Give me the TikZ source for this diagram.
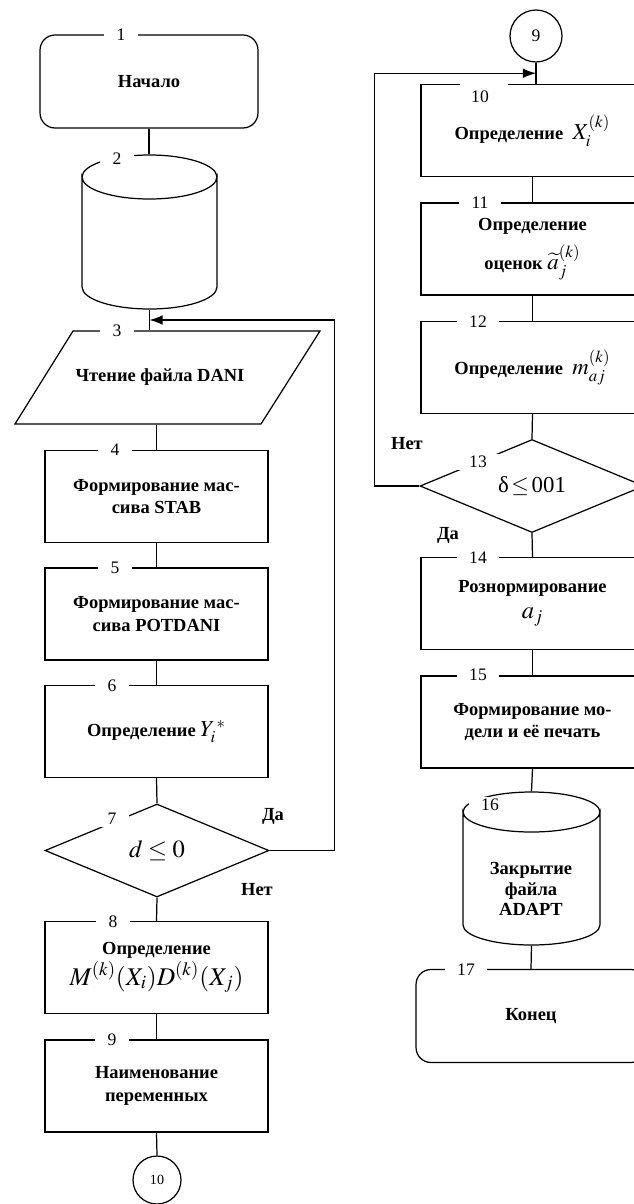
\documentclass[tikz,border=0pt]{standalone}
\usepackage{mathptmx}
\usepackage{fontspec}
\setmainfont{Liberation Serif}
\usetikzlibrary{shapes.geometric,arrows.meta,calc}
\begin{document}
\begin{tikzpicture}[x=0.02cm,y=-0.02cm, line width=0.7pt,
  txt/.style={font=\fontsize{10.5}{13}\selectfont\bfseries, align=center},
  procbox/.style={draw, rectangle, minimum width=4.46cm, minimum height=1.84cm, inner sep=0pt, txt},
  term/.style={draw, rectangle, rounded corners=0.3cm, minimum height=1.86cm, inner sep=0pt, txt},
  decision/.style={draw, diamond, aspect=2.4, minimum width=4.48cm, minimum height=1.86cm, inner sep=0pt, font=\fontsize{14}{16}\selectfont},
  conn/.style={draw, circle, inner sep=0pt},
  num/.style={fill=white, inner xsep=7pt, inner ysep=1pt, font=\fontsize{10}{12}\selectfont},
  ann/.style={font=\fontsize{10.5}{12}\selectfont\bfseries},
  arr/.style={-{Latex[length=7.5pt,width=5.5pt]}},
  ghost/.style={draw=none, rectangle, inner sep=0pt},
]
\useasboundingbox (0,0) rectangle (634,1204);

% ---------------- left column ----------------
\node[term, minimum width=4.36cm] (t1) at (149,81.5) {Начало};

% cylinder 2
\draw (82,177) arc[start angle=180,end angle=360,x radius=1.35cm,y radius=0.44cm]
  -- (217,287) arc[start angle=0,end angle=-180,x radius=1.35cm,y radius=0.44cm] -- cycle;
\draw (82,177) arc[start angle=180,end angle=0,x radius=1.35cm,y radius=0.44cm];
\node[ghost, minimum width=2.7cm, minimum height=3.08cm] (b2) at (149.5,232) {};

% parallelogram 3
\draw (73,331) -- (320,331) -- (261,424) -- (15,424) -- cycle;
\node[ghost, txt, minimum width=4.9cm, minimum height=1.86cm] (b3) at (160,377.5) {Чтение файла DANI};

\node[procbox] (b4) at (156.5,496.5) {Формирование мас-\\сива STAB};
\node[procbox] (b5) at (156.5,614) {Формирование мас-\\сива POTDANI};
\node[procbox] (b6) at (156.5,731.5) {Определение {\fontsize{13}{15}\selectfont$Y_i^{\,*}$}};
\node[decision] (d7) at (157,850.5) {$d\le 0$};
\node[procbox] (b8) at (156.5,967.5) {Определение\\[1pt]{\fontsize{14.5}{17}\selectfont$M^{(k)}(X_i)D^{(k)}(X_j)$}};
\node[procbox] (b9) at (156.5,1086) {Наименование\\переменных};
\node[conn, minimum size=0.96cm, font=\fontsize{8}{10}\selectfont] (c10) at (157,1180) {10};

\coordinate (m3) at ($(b2.south)!0.5!(b2.south |- b3.north)$);

\draw (t1.south) -- (t1.south |- b2.north);
\draw (b2.south) -- (b2.south |- b3.north);
\draw (b4.north |- b3.south) -- (b4.north);
\draw (b4.south) -- (b5.north);
\draw (b5.south) -- (b6.north);
\draw (b6.south) -- (d7.north);
\draw (d7.south) -- (b8.north);
\draw (b8.south) -- (b9.north);
\draw (b9.south) -- (c10.north);
\draw[arr] (d7.east) -- ++(65,0) |- (m3);

\node[num] at (121,35) {1};
\node[num] at (117,159) {2};
\node[num] at (117,331) {3};
\node[num] at (115,450) {4};
\node[num] at (115,568) {5};
\node[num] at (112,686) {6};
\node[num] at (112,819) {7};
\node[num] at (113,922) {8};
\node[num] at (112,1040) {9};

\node[ann] at (273,816) {Да};
\node[ann] at (257,890) {Нет};

% ---------------- right column ----------------
\node[conn, minimum size=1.04cm, font=\fontsize{10}{12}\selectfont] (c9) at (536,36) {9};
\node[procbox] (b10) at (532.5,130.5) {Определение\ \ {\fontsize{13}{15}\selectfont$X_i^{(k)}$}};
\node[procbox] (b11) at (532.5,249) {Определение\\[5pt]оценок {\fontsize{13}{15}\selectfont${\widetilde{a}}_j^{(k)}$}};
\node[procbox] (b12) at (532.5,367.5) {Определение\ \ {\fontsize{13}{15}\selectfont$m_{aj}^{(k)}$}};
\node[decision, font=\fontsize{13}{15}\selectfont] (d13) at (532,486) {δ$\,\le\,$001};
\node[procbox] (b14) at (532.5,603.5) {Рознормирование\\[2pt]{\fontsize{14}{16}\selectfont$a_j$}};
\node[procbox] (b15) at (532.5,722) {Формирование мо-\\дели и её печать};

% cylinder 16
\draw (463,812) arc[start angle=180,end angle=360,x radius=1.37cm,y radius=0.4cm]
  -- (600,925) arc[start angle=0,end angle=-180,x radius=1.37cm,y radius=0.4cm] -- cycle;
\draw (463,812) arc[start angle=180,end angle=0,x radius=1.37cm,y radius=0.4cm];
\node[ghost, minimum width=2.74cm, minimum height=3.06cm] (b16) at (531.5,868.5) {};
\node[txt, font=\fontsize{10.5}{11.5}\selectfont\bfseries] (b16t) at (531,889) {Закрытие\\файла\\ADAPT};

\node[term, minimum width=4.6cm] (t17) at (531,1016) {Конец};

\coordinate (m10) at ($(c9.south)!0.5!(c9.south |- b10.north)$);

\draw (c9.south) -- (c9.south |- b10.north);
\draw (b10.south) -- (b11.north);
\draw (b11.south) -- (b12.north);
\draw (b12.south) -- (d13.north);
\draw (d13.south) -- (b14.north);
\draw (b14.south) -- (b15.north);
\draw (b15.south) -- (b16.north);
\draw (b16.south) -- (t17.north);
\draw[arr] (d13.west) -- ++(-45,0) |- (m10);

\node[fill=white, minimum width=0.96cm, minimum height=4pt, inner sep=0pt] at (484,84) {};
\node[font=\fontsize{10}{12}\selectfont] at (480,97) {10};
\node[num] at (480,203) {11};
\node[num] at (478,322) {12};
\node[num] at (478,462) {13};
\node[num] at (478,558) {14};
\node[num] at (478,675) {15};
\node[num] at (490,805) {16};
\node[num] at (466,970) {17};

\node[ann] at (407,444) {Нет};
\node[ann] at (448,535) {Да};
\end{tikzpicture}
\end{document}
